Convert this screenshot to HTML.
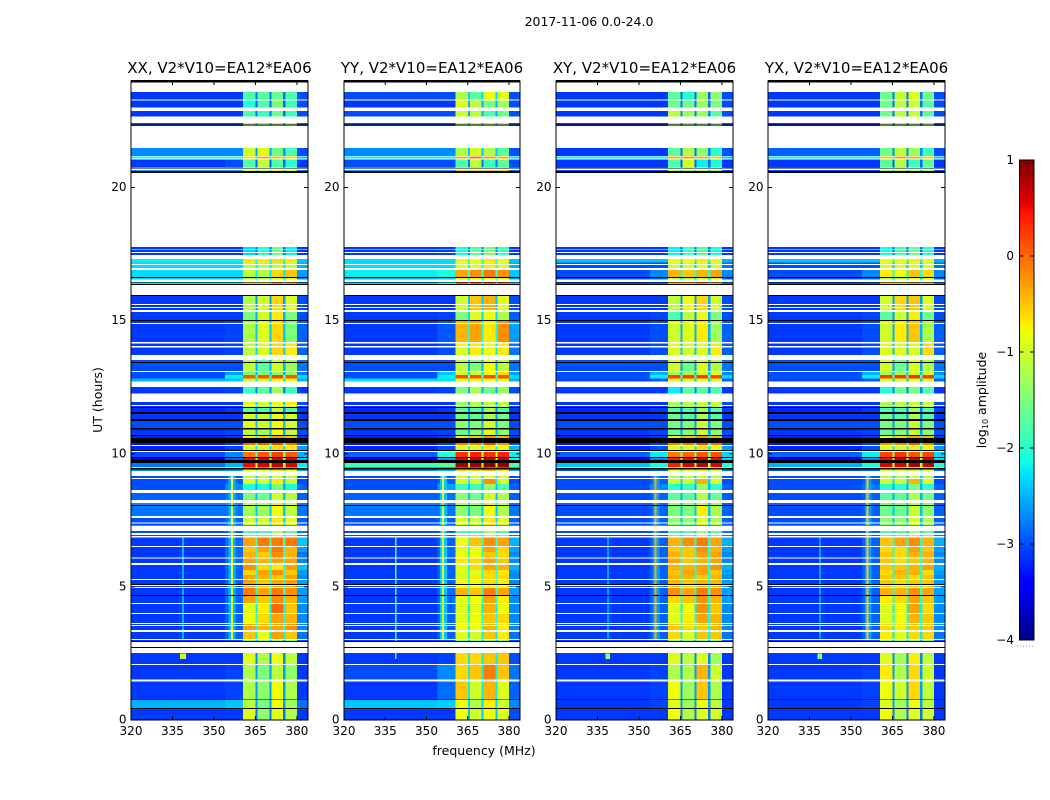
<!DOCTYPE html>
<html lang="en">
<head>
<meta charset="utf-8">
<title>2017-11-06 0.0-24.0</title>
<style>
html,body{margin:0;padding:0;background:#fff;width:1050px;height:800px;overflow:hidden}
svg{display:block;font-family:"DejaVu Sans","Liberation Sans",sans-serif;fill:#000}
</style>
</head>
<body>
<svg id="chart" xmlns="http://www.w3.org/2000/svg" width="1050" height="800" viewBox="0 0 1050 800">
<text x="589" y="26" text-anchor="middle" font-size="12.5">2017-11-06 0.0-24.0</text>
<text x="0" y="0" transform="translate(102,400) rotate(-90)" text-anchor="middle" font-size="12.5">UT (hours)</text>
<text x="484" y="755" text-anchor="middle" font-size="12.5">frequency (MHz)</text>
<text x="0" y="0" transform="translate(986,400) rotate(-90)" text-anchor="middle" font-size="12.5">log<tspan font-size="8" dy="2">10</tspan><tspan dy="-2"> amplitude</tspan></text>
</svg>
<script>
const panelTitles = ["XX, V2*V10=EA12*EA06","YY, V2*V10=EA12*EA06","XY, V2*V10=EA12*EA06","YX, V2*V10=EA12*EA06"];
const xTicks = [320,335,350,365,380];
const yTicks = [0,5,10,15,20];
const colorTicks = [1,0,-1,-2,-3,-4];
const colorTickLabels = ["1","0","\u22121","\u22122","\u22123","\u22124"];
const freqEdges = [320,354,360.5,365,365.8,370,370.8,375,375.8,380,384];
const utEdges = [23.59,23.29,22.99,22.54,22.31,21.48,21.18,21.09,20.77,20.58,17.77,17.31,17.18,16.94,16.62,16.49,16.34,15.96,15.32,14.99,14.20,13.52,13.09,12.95,12.83,12.55,11.94,11.72,11.53,11.27,10.95,10.69,10.40,10.31,10.07,9.86,9.65,9.50,9.45,9.16,9.05,8.86,8.53,8.15,8.04,7.59,7.14,6.87,6.50,6.31,6.08,5.82,5.63,5.45,5.26,4.96,4.66,4.36,3.98,3.61,3.31,3.00,2.52,2.07,1.50,0.75,0.45,0];
/* log10 amplitude per time band: background, shoulder, subband 1-4, subband gaps, upper edge */
const xxLevels = [
[-3.1,-3.1,-1.8,-1.7,-1.6,-1.8,-2.8,-3.0],[-3.1,-3.1,-2.1,-1.8,-1.5,-1.9,-2.9,-3.0],[-3.1,-3.1,-1.8,-1.9,-1.6,-1.9,-2.8,-3.0],[-3.0,-3.0,-1.2,-1.2,-1.2,-1.2,-2.4,-3.0],null,
[-2.7,-2.7,-1.0,-0.9,-1.6,-1.8,-2.6,-3.0],[-2.1,-2.1,-0.7,-0.4,-0.5,-0.7,-2.0,-2.4],[-3.1,-3.0,-1.8,-1.1,-1.8,-2.0,-2.9,-3.1],[-2.6,-2.6,-0.9,-0.9,-0.7,-0.9,-2.2,-2.8],null,
[-3.1,-3.1,-2.3,-2.0,-1.6,-2.2,-2.8,-3.1],[-2.2,-2.2,-0.7,-0.7,-0.6,-0.7,-2.0,-2.4],[-2.3,-2.3,-1.1,-1.2,-1.1,-1.1,-2.2,-2.5],[-2.3,-2.3,-1.1,-1.2,-0.6,-0.5,-2.2,-2.6],[-2.4,-2.4,-1.3,-1.3,-1.0,-1.1,-2.3,-2.7],[-2.3,-2.3,-0.5,-0.5,-0.1,-0.2,-2.0,-2.6],null,
[-3.1,-3.1,-1.2,-1.0,-0.6,-0.9,-2.6,-3.0],[-3.1,-3.1,-1.5,-1.0,-0.7,-1.5,-2.5,-3.0],[-3.1,-3.05,-1.2,-0.9,-0.6,-1.5,-2.4,-2.9],[-3.1,-3.05,-1.1,-0.9,-0.6,-0.7,-2.3,-2.9],[-3.0,-3.0,-1.1,-1.7,-1.0,-1.3,-2.5,-2.8],[-3.0,-2.6,-1.5,-1.4,-1.4,-1.4,-2.5,-2.8],[-3.0,-2.2,0.1,0.1,0.2,0.1,-1.6,-2.3],[-2.5,-2.4,-1.1,-1.0,-0.8,-0.9,-2.2,-2.5],[-3.1,-3.05,-1.9,-1.7,-1.3,-1.9,-2.7,-3.1],
[-3.1,-3.1,-0.9,-1.0,-0.8,-0.7,-2.3,-3.0],[-3.2,-3.1,-1.7,-1.8,-1.2,-1.8,-2.7,-3.1],[-3.1,-3.1,-1.0,-1.0,-0.8,-1.0,-2.4,-3.1],[-3.0,-3.0,-0.9,-1.0,-0.8,-1.0,-2.4,-3.0],[-3.1,-3.05,-1.1,-1.2,-0.8,-1.1,-2.5,-3.0],[-3.2,-3.1,-0.7,-0.6,-0.3,-0.5,-2.2,-3.1],[-3.3,-3.1,0.0,0.1,0.2,0.0,-1.8,-3.0],[-3.2,-3.05,-1.0,-1.0,-0.6,-0.7,-2.2,-2.6],[-3.0,-2.7,-0.1,0.1,0.2,0.1,-1.6,-2.5],[-3.5,-2.9,0.5,0.6,0.6,0.6,-1.2,-2.4],[-2.8,-2.5,0.5,0.6,0.7,0.6,-1.0,-2.2],[-1.0,-1.0,-0.1,-0.1,0.0,-0.1,-0.9,-1.2],[-2.7,-2.6,-0.8,-0.8,-0.6,-0.8,-1.8,-2.6],[-3.0,-2.9,-1.2,-1.2,-1.0,-1.2,-2.4,-3.0],
[-3.0,-2.9,-0.9,-0.9,-0.7,-1.0,-2.3,-3.0],[-3.0,-2.7,-2.1,-2.1,-1.5,-2.1,-2.5,-2.9],[-2.9,-2.8,-1.5,-1.6,-1.0,-1.2,-2.4,-2.9],[-2.7,-2.7,-0.9,-1.0,-0.7,-0.9,-2.2,-2.8],[-2.8,-2.8,-1.3,-1.3,-0.8,-1.1,-2.4,-2.8],[-3.0,-2.9,-1.0,-1.0,-0.7,-0.9,-2.3,-2.9],[-3.0,-2.9,-1.8,-1.8,-1.2,-1.7,-2.2,-2.8],
[-3.1,-2.85,-0.3,-0.1,-0.1,-0.1,-1.9,-2.4],[-3.1,-2.85,-0.5,-0.3,-0.1,-0.4,-1.9,-2.6],[-3.1,-2.85,-0.4,-0.5,-0.2,-0.4,-2.0,-2.8],[-3.1,-2.85,-0.3,-0.4,-0.3,-0.3,-2.0,-2.7],[-3.1,-2.85,-0.2,-0.6,-0.7,-0.3,-2.0,-2.4],[-3.1,-2.9,-0.6,-0.3,-0.2,-0.5,-2.0,-2.6],[-3.1,-2.9,-0.3,-0.4,-0.5,-0.3,-2.0,-2.7],[-3.1,-2.9,-0.3,-0.5,-0.3,-0.3,-2.0,-2.6],[-3.1,-2.85,-0.1,-0.3,-0.1,-0.2,-1.9,-2.6],[-3.1,-2.85,-0.3,-0.5,-0.2,-0.4,-2.0,-2.6],[-3.1,-2.9,-0.9,-0.7,0.0,-0.5,-2.2,-2.7],[-3.1,-2.9,-0.8,-0.6,-0.3,-0.4,-2.1,-2.7],[-3.1,-2.9,-0.3,-0.4,-0.3,-0.2,-2.0,-2.7],[-3.1,-2.9,-0.5,-0.8,-0.3,-0.5,-2.2,-2.8],[-3.1,-3.0,-1.5,-1.5,-1.5,-1.5,-2.5,-3.0],
[-3.1,-3.1,-0.9,-1.2,-0.8,-1.1,-2.7,-3.1],[-3.1,-3.05,-1.2,-1.5,-1.1,-1.4,-2.6,-3.1],[-3.1,-3.05,-1.2,-1.4,-0.8,-1.2,-2.6,-3.1],[-2.5,-2.4,-1.1,-1.5,-0.8,-1.3,-2.6,-2.8],[-3.1,-3.1,-0.9,-1.4,-0.9,-1.2,-2.8,-3.1]];
const yyLevels = [
[-3.0,-3.0,-1.2,-1.7,-0.8,-0.9,-2.3,-3.0],[-3.1,-3.1,-0.9,-1.1,-1.5,-1.3,-2.5,-3.0],[-3.0,-3.0,-1.0,-1.1,-1.8,-1.6,-2.5,-3.0],[-3.0,-3.0,-1.2,-1.2,-1.2,-1.2,-2.4,-3.0],null,
[-2.7,-2.7,-1.2,-1.0,-1.2,-1.7,-2.4,-3.0],[-2.2,-2.2,-0.4,-0.1,-0.3,-0.4,-1.8,-2.3],[-3.0,-3.0,-1.8,-1.1,-1.9,-1.7,-2.8,-3.0],[-2.6,-2.6,-0.6,-0.6,-0.5,-0.6,-2.0,-2.8],null,
[-3.1,-3.05,-2.1,-1.7,-1.5,-1.9,-2.7,-3.1],[-2.3,-2.3,-0.9,-0.8,-0.7,-0.8,-2.0,-2.4],[-2.3,-2.3,-0.9,-0.9,-0.7,-0.9,-2.1,-2.5],[-2.2,-2.1,-0.3,-0.2,-0.1,-0.2,-1.8,-2.4],[-2.5,-2.4,-1.0,-0.9,-0.9,-1.0,-2.2,-2.6],[-2.4,-2.1,0.05,0.1,0.1,0.05,-1.6,-2.4],null,
[-3.1,-3.1,-1.0,-0.5,-0.4,-0.9,-2.4,-3.0],[-3.1,-3.05,-1.5,-0.9,-0.8,-1.2,-2.3,-2.9],[-3.1,-2.95,-0.4,-0.3,-0.7,-0.2,-2.1,-2.6],[-3.1,-3.0,-0.9,-0.7,-0.8,-0.7,-2.2,-2.8],[-3.0,-3.0,-1.1,-1.5,-0.8,-1.1,-2.5,-2.8],[-3.0,-2.4,-1.0,-1.0,-0.8,-0.6,-2.3,-2.6],[-3.0,-2.2,0.15,0.15,0.2,0.1,-1.5,-2.3],[-2.3,-2.25,-0.9,-0.9,-0.8,-0.9,-2.1,-2.5],[-3.1,-3.05,-1.5,-1.2,-1.6,-1.3,-2.5,-3.0],
[-3.1,-3.1,-1.3,-1.1,-1.1,-1.1,-2.5,-3.0],[-3.2,-3.1,-1.7,-1.8,-1.3,-1.8,-2.7,-3.1],[-3.1,-3.1,-1.6,-1.7,-1.2,-1.6,-2.6,-3.1],[-3.0,-3.0,-1.4,-1.5,-1.0,-1.5,-2.5,-3.0],[-3.1,-3.05,-1.6,-1.4,-0.9,-1.4,-2.5,-3.0],[-3.2,-3.1,-0.7,-0.5,-0.2,-0.4,-2.1,-3.1],[-3.3,-3.1,-0.1,-0.1,0.2,-0.2,-1.8,-3.0],[-3.2,-3.0,-0.9,-0.9,-0.7,-0.8,-2.1,-2.5],[-2.9,-2.0,0.3,0.4,0.3,0.4,-0.9,-2.2],[-3.4,-2.6,0.6,0.7,0.7,0.7,-0.9,-2.1],[-1.9,-1.7,0.85,0.85,0.95,0.9,-0.7,-1.8],[0.0,0.0,0.3,0.3,0.3,0.3,0.0,0.0],[-2.7,-2.5,-0.6,-0.6,-0.4,-0.6,-1.6,-2.6],[-3.0,-2.9,-1.0,-1.0,-0.9,-1.0,-2.3,-3.0],
[-3.0,-2.9,-0.9,-1.0,-0.2,-0.9,-2.2,-3.0],[-3.0,-2.6,-1.9,-1.9,-1.4,-1.8,-2.4,-2.9],[-2.9,-2.8,-1.4,-1.6,-1.0,-1.2,-2.4,-2.9],[-2.7,-2.7,-1.0,-1.1,-0.7,-0.9,-2.2,-2.8],[-2.8,-2.8,-1.4,-1.5,-0.8,-1.2,-2.4,-2.8],[-3.0,-2.9,-0.9,-1.0,-0.7,-0.9,-2.3,-2.9],[-3.0,-2.9,-1.8,-1.8,-1.2,-1.7,-2.2,-2.8],
[-3.1,-2.9,-0.8,-0.5,-0.2,-0.3,-1.9,-2.5],[-3.1,-2.85,-0.9,-0.8,-0.3,-0.6,-2.0,-2.6],[-3.1,-2.85,-0.8,-0.8,-0.5,-0.6,-2.0,-2.7],[-3.1,-2.9,-0.7,-0.6,-0.3,-0.5,-2.0,-2.7],[-3.1,-2.9,-0.9,-0.6,-0.3,-0.4,-2.0,-2.5],[-3.1,-2.9,-0.9,-0.9,-0.6,-0.7,-2.0,-2.7],[-3.1,-2.9,-0.9,-0.7,-0.6,-0.6,-2.0,-2.7],[-3.1,-2.9,-0.8,-0.8,-0.6,-0.7,-2.0,-2.7],[-3.1,-2.85,-0.4,-0.5,-0.1,-0.3,-1.9,-2.6],[-3.1,-2.85,-0.9,-0.8,-0.3,-0.7,-2.0,-2.7],[-3.1,-2.9,-0.9,-0.9,-0.4,-0.8,-2.2,-2.7],[-3.1,-2.9,-0.9,-0.8,-0.5,-0.6,-2.1,-2.7],[-3.1,-2.9,-0.8,-0.8,-0.4,-0.7,-2.1,-2.7],[-3.1,-2.9,-0.9,-1.0,-0.5,-0.7,-2.2,-2.8],[-3.1,-3.0,-1.5,-1.5,-1.5,-1.5,-2.5,-3.0],
[-3.1,-3.05,-0.6,-0.6,-0.5,-0.5,-2.2,-3.0],[-3.0,-2.7,-0.6,-0.5,-0.1,-0.5,-2.2,-2.8],[-3.1,-2.85,-0.5,-1.0,-0.4,-0.9,-2.2,-2.9],[-2.4,-2.35,-0.8,-1.2,-0.7,-1.0,-2.3,-2.7],[-3.1,-3.1,-0.8,-1.0,-0.8,-0.9,-2.4,-3.0]];
const xyLevels = [
[-3.1,-3.1,-1.7,-2.0,-1.3,-1.4,-2.9,-3.0],[-3.1,-3.1,-1.6,-1.6,-1.3,-1.5,-2.8,-3.0],[-3.1,-3.1,-1.1,-1.3,-1.3,-1.7,-2.7,-3.0],[-3.1,-3.1,-1.3,-1.3,-1.3,-1.3,-2.7,-3.0],null,
[-3.1,-3.1,-1.7,-1.2,-1.4,-2.0,-2.8,-3.0],[-2.2,-2.2,-0.4,-0.3,-0.4,-0.6,-2.0,-2.4],[-3.1,-3.1,-1.8,-1.0,-2.2,-2.1,-2.9,-3.1],[-3.0,-3.0,-1.1,-1.1,-1.0,-1.1,-2.4,-3.0],null,
[-3.1,-3.1,-2.2,-1.9,-1.7,-2.1,-2.8,-3.1],[-2.4,-2.4,-0.8,-0.8,-0.7,-0.8,-2.0,-2.5],[-3.0,-3.0,-1.0,-1.0,-0.9,-1.0,-2.4,-2.8],[-3.0,-2.7,-0.4,-0.5,-0.4,-0.3,-2.0,-2.7],[-3.0,-2.9,-1.2,-1.2,-1.0,-1.1,-2.4,-2.9],[-3.0,-2.9,-0.3,-0.3,-0.1,-0.3,-2.0,-2.8],null,
[-3.1,-3.1,-1.1,-0.8,-0.6,-1.0,-2.6,-3.0],[-3.1,-3.05,-1.8,-1.1,-0.8,-1.5,-2.6,-3.0],[-3.1,-3.0,-1.0,-0.9,-0.7,-1.3,-2.5,-2.9],[-3.1,-3.0,-0.9,-1.0,-0.9,-0.7,-2.4,-2.9],[-3.0,-3.0,-1.0,-1.6,-0.9,-1.2,-2.6,-2.8],[-3.0,-2.5,-1.3,-1.2,-1.0,-0.9,-2.4,-2.7],[-3.0,-2.2,0.2,0.2,0.25,0.2,-1.6,-2.3],[-3.0,-2.95,-1.0,-1.0,-0.9,-1.0,-2.4,-2.9],[-3.1,-3.1,-2.2,-1.7,-1.7,-1.8,-2.7,-3.1],
[-3.1,-3.1,-1.2,-1.1,-1.0,-1.0,-2.5,-3.0],[-3.2,-3.1,-1.8,-1.8,-1.3,-1.8,-2.8,-3.1],[-3.1,-3.1,-1.6,-1.8,-1.1,-1.8,-2.7,-3.1],[-3.0,-3.0,-1.5,-1.5,-1.0,-1.5,-2.6,-3.0],[-3.1,-3.05,-1.6,-1.4,-1.0,-1.4,-2.6,-3.0],[-3.2,-3.1,-0.7,-0.5,-0.2,-0.4,-2.2,-3.1],[-3.3,-3.1,-0.1,0.0,0.2,0.0,-1.8,-3.0],[-3.2,-3.0,-0.9,-1.0,-0.6,-0.8,-2.2,-2.6],[-2.9,-2.2,-0.1,0.0,0.1,0.1,-1.5,-2.3],[-3.4,-2.7,0.4,0.5,0.6,0.5,-1.2,-2.3],[-2.4,-2.1,0.4,0.6,0.7,0.6,-1.0,-2.0],[-0.9,-0.9,-0.7,-0.7,-0.7,-0.7,-0.9,-1.0],[-3.0,-2.9,-0.9,-0.9,-0.7,-0.9,-2.0,-2.8],[-3.0,-2.9,-1.2,-1.2,-1.0,-1.2,-2.4,-3.0],
[-3.0,-2.9,-1.0,-1.0,-0.4,-0.9,-2.3,-3.0],[-3.0,-2.7,-2.0,-1.9,-1.3,-2.0,-2.5,-2.9],[-3.0,-2.9,-1.7,-1.7,-1.1,-1.6,-2.5,-2.9],[-2.9,-2.85,-1.3,-1.3,-1.0,-1.2,-2.4,-2.9],[-3.0,-2.9,-1.5,-1.5,-0.7,-1.2,-2.4,-2.9],[-3.0,-2.9,-1.4,-1.4,-0.9,-1.2,-2.4,-2.9],[-3.0,-2.9,-1.8,-1.8,-1.2,-1.7,-2.3,-2.8],
[-3.1,-2.9,-0.4,-0.2,-0.1,-0.3,-2.0,-2.5],[-3.1,-2.9,-0.5,-0.5,-0.2,-0.4,-2.0,-2.6],[-3.1,-2.9,-0.4,-0.5,-0.3,-0.3,-2.0,-2.7],[-3.1,-2.9,-0.3,-0.5,-0.4,-0.3,-2.0,-2.7],[-3.1,-2.9,-0.4,-0.4,-0.3,-0.2,-2.0,-2.5],[-3.1,-2.9,-0.5,-0.3,-0.3,-0.5,-2.0,-2.6],[-3.1,-2.9,-0.4,-0.4,-0.5,-0.4,-2.0,-2.7],[-3.1,-2.9,-0.4,-0.5,-0.4,-0.4,-2.0,-2.6],[-3.1,-2.9,-0.2,-0.3,-0.1,-0.2,-1.9,-2.6],[-3.1,-2.9,-0.6,-0.5,-0.2,-0.4,-2.0,-2.6],[-3.1,-2.9,-0.9,-0.8,-0.2,-0.5,-2.2,-2.7],[-3.1,-2.9,-0.9,-0.7,-0.3,-0.4,-2.1,-2.7],[-3.1,-2.9,-0.5,-0.6,-0.5,-0.4,-2.1,-2.7],[-3.1,-2.9,-0.6,-0.9,-0.5,-0.5,-2.2,-2.8],[-3.1,-3.0,-1.5,-1.5,-1.5,-1.5,-2.5,-3.0],
[-3.1,-3.1,-0.9,-1.1,-0.9,-1.3,-2.7,-3.1],[-3.1,-3.05,-1.2,-1.2,-0.4,-1.0,-2.6,-3.1],[-3.1,-3.05,-0.8,-1.3,-0.5,-1.2,-2.6,-3.1],[-3.1,-3.05,-0.9,-1.3,-0.8,-1.1,-2.6,-3.1],[-3.1,-3.1,-0.8,-1.2,-0.9,-1.0,-2.8,-3.1]];
const yxLevels = [
[-3.1,-3.1,-1.6,-1.1,-0.9,-1.6,-2.8,-3.0],[-3.1,-3.1,-1.6,-1.1,-1.0,-1.7,-2.8,-3.0],[-3.1,-3.1,-1.6,-1.1,-1.0,-1.7,-2.8,-3.0],[-3.1,-3.1,-1.3,-1.3,-1.3,-1.3,-2.7,-3.0],null,
[-2.9,-2.9,-1.6,-1.1,-1.3,-1.9,-2.7,-3.0],[-2.2,-2.2,-0.5,-0.3,-0.4,-0.6,-2.0,-2.4],[-3.1,-3.1,-1.7,-1.2,-1.9,-1.7,-2.9,-3.1],[-3.0,-3.0,-1.1,-1.1,-1.0,-1.1,-2.4,-3.0],null,
[-3.1,-3.1,-2.1,-1.8,-1.6,-2.0,-2.8,-3.1],[-2.4,-2.4,-0.8,-0.8,-0.7,-0.8,-2.0,-2.5],[-3.0,-3.0,-1.0,-1.0,-0.9,-1.0,-2.4,-2.8],[-3.0,-2.7,-0.7,-0.8,-0.5,-0.6,-2.0,-2.7],[-3.0,-2.9,-1.2,-1.2,-1.0,-1.1,-2.4,-2.9],[-3.0,-2.9,-0.4,-0.4,-0.2,-0.3,-2.0,-2.8],null,
[-3.1,-3.1,-1.0,-0.6,-0.5,-0.9,-2.6,-3.0],[-3.1,-3.05,-1.7,-1.0,-0.7,-1.6,-2.6,-3.0],[-3.1,-3.0,-1.0,-0.7,-0.5,-1.2,-2.5,-2.9],[-3.1,-3.0,-0.9,-0.9,-0.9,-0.6,-2.4,-2.9],[-3.0,-3.0,-1.0,-1.6,-0.9,-1.2,-2.6,-2.8],[-3.0,-2.5,-1.3,-1.3,-1.0,-1.0,-2.4,-2.7],[-3.0,-2.2,0.25,0.25,0.3,0.25,-1.6,-2.3],[-3.0,-2.95,-1.0,-1.0,-0.9,-1.0,-2.4,-2.9],[-3.1,-3.1,-2.0,-1.6,-1.5,-1.8,-2.7,-3.1],
[-3.1,-3.1,-1.2,-1.1,-1.0,-1.0,-2.5,-3.0],[-3.2,-3.1,-1.8,-1.8,-1.3,-1.8,-2.8,-3.1],[-3.1,-3.1,-1.6,-1.8,-1.2,-1.8,-2.7,-3.1],[-3.0,-3.0,-1.5,-1.5,-1.0,-1.5,-2.6,-3.0],[-3.1,-3.05,-1.6,-1.4,-1.0,-1.4,-2.6,-3.0],[-3.2,-3.1,-0.8,-0.6,-0.3,-0.4,-2.2,-3.1],[-3.3,-3.1,-0.2,-0.1,0.1,-0.1,-1.8,-3.0],[-3.2,-3.0,-0.9,-1.0,-0.7,-0.8,-2.2,-2.6],[-2.9,-2.2,0.2,0.3,0.1,0.2,-1.4,-2.3],[-3.4,-2.7,0.5,0.6,0.6,0.6,-1.1,-2.3],[-2.5,-2.1,0.6,0.6,0.8,0.7,-1.0,-2.0],[-0.9,-0.9,-0.7,-0.7,-0.7,-0.7,-0.9,-1.0],[-3.0,-2.9,-0.9,-0.9,-0.7,-0.9,-2.0,-2.8],[-3.0,-2.9,-1.2,-1.2,-1.0,-1.2,-2.4,-3.0],
[-3.0,-2.9,-1.0,-1.0,-0.4,-0.9,-2.3,-3.0],[-3.0,-2.8,-2.0,-2.0,-1.5,-2.0,-2.5,-2.9],[-3.0,-2.9,-1.7,-1.7,-1.2,-1.6,-2.5,-2.9],[-2.9,-2.85,-1.4,-1.4,-1.0,-1.3,-2.4,-2.9],[-3.0,-2.9,-1.6,-1.6,-1.0,-1.4,-2.4,-2.9],[-3.0,-2.9,-1.4,-1.4,-0.9,-1.2,-2.4,-2.9],[-3.0,-2.9,-1.8,-1.8,-1.2,-1.7,-2.3,-2.8],
[-3.1,-2.9,-0.5,-0.3,-0.2,-0.4,-2.0,-2.5],[-3.1,-2.9,-0.6,-0.6,-0.3,-0.5,-2.0,-2.6],[-3.1,-2.9,-0.5,-0.6,-0.4,-0.4,-2.0,-2.7],[-3.1,-2.9,-0.5,-0.6,-0.5,-0.4,-2.0,-2.7],[-3.1,-2.9,-0.5,-0.5,-0.4,-0.3,-2.0,-2.5],[-3.1,-2.9,-0.6,-0.4,-0.4,-0.6,-2.0,-2.6],[-3.1,-2.9,-0.5,-0.5,-0.6,-0.5,-2.0,-2.7],[-3.1,-2.9,-0.5,-0.6,-0.5,-0.5,-2.0,-2.6],[-3.1,-2.9,-0.4,-0.4,-0.2,-0.3,-1.9,-2.6],[-3.1,-2.9,-0.7,-0.6,-0.3,-0.5,-2.0,-2.6],[-3.1,-2.9,-0.9,-0.8,-0.3,-0.6,-2.2,-2.7],[-3.1,-2.9,-0.9,-0.8,-0.4,-0.5,-2.1,-2.7],[-3.1,-2.9,-0.6,-0.7,-0.5,-0.5,-2.1,-2.7],[-3.1,-2.9,-0.7,-0.9,-0.6,-0.6,-2.2,-2.8],[-3.1,-3.0,-1.5,-1.5,-1.5,-1.5,-2.5,-3.0],
[-3.1,-3.1,-0.9,-1.3,-0.7,-1.1,-2.7,-3.1],[-3.1,-3.05,-0.7,-1.2,-0.6,-1.0,-2.6,-3.1],[-3.1,-3.05,-0.8,-1.0,-0.6,-1.1,-2.6,-3.1],[-3.1,-3.05,-0.9,-1.3,-0.8,-1.1,-2.6,-3.1],[-3.1,-3.1,-0.8,-1.2,-0.9,-1.0,-2.8,-3.1]];
/* narrowband interference: freq low, freq high, UT low, UT high, level */
const xxInterference = [[338.5,339.2,3.0,6.9,-2.5],[337.8,339.8,2.3,2.5,-1.0],[355.3,357.8,3.0,9.3,-2.5],[356.2,356.9,3.0,9.3,-0.8]];
const yyInterference = [[338.5,339.1,2.3,6.9,-1.8],[354.9,357.4,3.0,9.3,-2.4],[355.6,356.4,3.0,9.3,-0.9]];
const xyInterference = [[338.5,339.1,3.0,6.9,-2.6],[337.9,339.5,2.3,2.5,-1.2],[355,357.4,3.0,9.3,-2.6],[355.7,356.4,3.0,9.3,-0.3]];
const yxInterference = [[338.5,339.1,3.0,6.9,-2.6],[337.9,339.5,2.3,2.5,-1.4],[355,357.4,3.0,9.3,-2.6],[355.7,356.4,3.0,9.3,-0.5]];
/* flagged (no data) time ranges and zero-amplitude time ranges, in UT hours */
const flaggedHigh = [23.95,23.31,23.0,22.66,21.19,21.09,20.71,17.68,17.57,17.47,17.12,16.97,16.54,15.62,15.51,15.40,14.91,14.20,14.05,13.71,13.11,12.71,12.26,11.83,10.33,10.10,9.35,9.09,8.64,8.26,7.66,7.41,7.30,7.02,6.91,6.54,6.10,5.90,5.30,5.07,5.00,4.39,4.02,3.64,3.57,3.38,3.04,2.93,2.70,2.10,1.53];
const flaggedLow = [23.59,23.27,22.87,22.42,21.17,21.06,20.66,17.65,17.54,17.31,17.09,16.91,16.46,15.59,15.47,15.32,14.87,14.15,13.99,13.52,13.07,12.51,11.94,11.79,10.29,10.07,9.16,9.05,8.53,8.15,7.59,7.39,7.10,6.95,6.85,6.50,6.06,5.82,5.26,5.03,4.96,4.36,3.98,3.61,3.53,3.31,3.00,2.74,2.52,2.07,1.45];
const zeroHigh = [24.03,22.37,20.74,20.62,16.64,16.46,16.38,15.96,15.02,13.45,11.76,11.57,11.31,10.97,10.70,10.59,10.14,9.88,9.77,9.47,8.08,7.32,5.11,4.69,2.97,2.74,0.77,0.45];
const zeroLow = [23.95,22.33,20.71,20.55,16.61,16.43,16.34,15.93,14.99,13.41,11.72,11.49,11.23,10.92,10.67,10.40,10.10,9.84,9.65,9.41,8.04,7.30,5.07,4.66,2.93,2.70,0.75,0.42];

const panelLevels = [xxLevels,yyLevels,xyLevels,yxLevels];
const panelInterference = [xxInterference,yyInterference,xyInterference,yxInterference];
const panelKeys = ["xx","yy","xy","yx"];

const NS = "http://www.w3.org/2000/svg";
const svg = document.getElementById("chart");
const panelLeft = [131,344,556,768];
const panelWidths = [177,176,177,177];
const plotTop = 81, plotBottom = 720;
const freqMin = 320, freqMax = 384, utMax = 24, utMin = 0, levelMin = -4, levelMax = 1;

function xScale(p, f){ return panelLeft[p] + (f - freqMin) / (freqMax - freqMin) * panelWidths[p]; }
function yScale(u){ return plotBottom - (u - utMin) / (utMax - utMin) * (plotBottom - plotTop); }
function lerpTable(t, table){
  for (let i = 1; i < table.length; i++){
    if (t <= table[i][0]){
      const a = table[i-1], b = table[i];
      return a[1] + (b[1]-a[1]) * (t-a[0]) / (b[0]-a[0]);
    }
  }
  return table[table.length-1][1];
}
const jetR = [[0,0],[.35,0],[.66,1],[.89,1],[1,.5]];
const jetG = [[0,0],[.125,0],[.375,1],[.64,1],[.91,0],[1,0]];
const jetB = [[0,.5],[.11,1],[.34,1],[.65,0],[1,0]];
function colorScale(v){
  const t = Math.max(0, Math.min(1, (v - levelMin) / (levelMax - levelMin)));
  return "rgb(" + Math.round(255*lerpTable(t,jetR)) + "," + Math.round(255*lerpTable(t,jetG)) + "," + Math.round(255*lerpTable(t,jetB)) + ")";
}
function mk(tag, attrs, parent){
  const el = document.createElementNS(NS, tag);
  for (const k in attrs) el.setAttribute(k, attrs[k]);
  (parent || svg).appendChild(el);
  return el;
}
function band(parent, x0, x1, yTop, yBot, fill){
  return mk("rect", {x:x0, y:yTop, width:x1-x0, height:Math.max(yBot-yTop,0.6), fill:fill, "shape-rendering":"crispEdges"}, parent);
}

panelTitles.forEach(function(title, p){
  const key = panelKeys[p];
  const left = panelLeft[p], right = left + panelWidths[p];
  const g = mk("g", {});
  
  

  const bg = band(g, left, right, plotTop, plotBottom, "#fff");
  
  

  panelLevels[p].forEach(function(row, r){
    if (!row) return;
    const cols = [row[0],row[1],row[2],row[6],row[3],row[6],row[4],row[6],row[5],row[7]];
    cols.forEach(function(level, c){
      const cell = band(g, xScale(p,freqEdges[c]), xScale(p,freqEdges[c+1]), yScale(utEdges[r]), yScale(utEdges[r+1]), colorScale(level));
      
      
    });
  });

  panelInterference[p].forEach(function(s){
    const line = band(g, xScale(p,s[0]), xScale(p,s[1]), yScale(s[3]), yScale(s[2]), colorScale(s[4]));
    
    
  });

  flaggedHigh.forEach(function(hi, i){
    const gap = band(g, left, right, yScale(hi), yScale(flaggedLow[i]), "#fff");
    
    
  });

  zeroHigh.forEach(function(hi, i){
    const line = band(g, left, right, yScale(hi), yScale(zeroLow[i]), "#000");
    
    
  });

  const frame = mk("rect", {x:left, y:plotTop, width:panelWidths[p], height:plotBottom-plotTop, fill:"none", stroke:"#000", "stroke-width":1}, g);
  
  

  const ttl = mk("text", {x:(left+right)/2, y:73, "text-anchor":"middle", "font-size":15}, g);
  ttl.textContent = title;
  
  

  xTicks.forEach(function(t){
    const x = xScale(p,t);
    const a = mk("line", {x1:x, x2:x, y1:plotBottom, y2:plotBottom-4, stroke:"#000"}, g);
    
    
    const b = mk("line", {x1:x, x2:x, y1:plotTop, y2:plotTop+4, stroke:"#000"}, g);
    
    
    const lab = mk("text", {x:x, y:735, "text-anchor":"middle", "font-size":12}, g);
    lab.textContent = String(t);
    
    
  });

  yTicks.forEach(function(t){
    const y = yScale(t);
    const a = mk("line", {x1:left, x2:left+4, y1:y, y2:y, stroke:"#000"}, g);
    
    
    const b = mk("line", {x1:right, x2:right-4, y1:y, y2:y, stroke:"#000"}, g);
    
    
    const lab = mk("text", {x:left-4.5, y:y+3.5, "text-anchor":"end", "font-size":12}, g);
    lab.textContent = String(t);
    
    
  });
});

/* colorbar */
const cbLeft = 1019.5, cbWidth = 14.5, cbTop = 160, cbBottom = 640;
function cbScale(v){ return cbBottom - (v - levelMin) / (levelMax - levelMin) * (cbBottom - cbTop); }
const cb = mk("g", {});


const cbSteps = 240;
for (let i = 0; i < cbSteps; i++){
  const v0 = levelMin + (levelMax-levelMin)*i/cbSteps;
  const v1 = levelMin + (levelMax-levelMin)*(i+1)/cbSteps;
  const seg = band(cb, cbLeft, cbLeft+cbWidth, cbScale(v1), cbScale(v0)+0.5, colorScale((v0+v1)/2));
  
  
}
const cbFrame = mk("rect", {x:cbLeft, y:cbTop, width:cbWidth, height:cbBottom-cbTop, fill:"none", stroke:"#000", "stroke-width":1}, cb);


colorTicks.forEach(function(v, i){
  const y = cbScale(v);
  const a = mk("line", {x1:cbLeft, x2:cbLeft+4, y1:y, y2:y, stroke:"#000"}, cb);
  
  
  const b = mk("line", {x1:cbLeft+cbWidth-4, x2:cbLeft+cbWidth, y1:y, y2:y, stroke:"#000"}, cb);
  
  
  const lab = mk("text", {x:1014, y:y+4, "text-anchor":"end", "font-size":12}, cb);
  lab.textContent = colorTickLabels[i];
  
  
});
const cbDots = mk("line", {x1:1017, x2:1035, y1:646, y2:646, stroke:"#999", "stroke-width":1, "stroke-dasharray":"1 2"}, cb);


</script>
</body>
</html>
